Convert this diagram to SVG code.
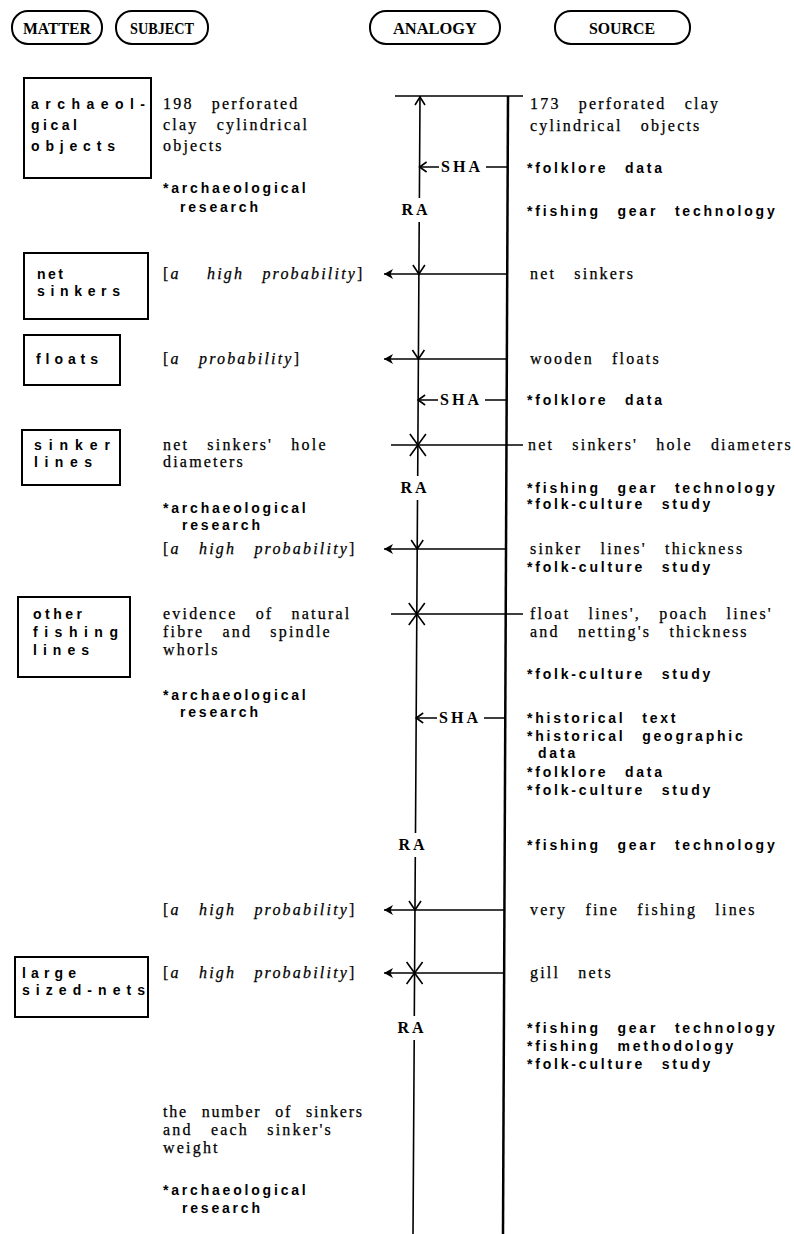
<svg xmlns="http://www.w3.org/2000/svg" xmlns:xlink="http://www.w3.org/1999/xlink" width="794" height="1234" viewBox="0 0 794 1234">
<style>
.pill{fill:none;stroke:#000;stroke-width:2}
.hdr{font-family:"Liberation Serif","Times New Roman",serif;font-weight:bold;font-size:17px;text-anchor:middle;fill:#000}
.box{fill:none;stroke:#000;stroke-width:2}
.bx{font-family:"Liberation Sans",Arial,sans-serif;font-weight:bold;font-size:14px;fill:#000}
.t{font-family:"Liberation Serif","Times New Roman",serif;font-size:16px;letter-spacing:2.2px;word-spacing:12px;fill:#000;stroke:#000;stroke-width:0.25}
.i{font-style:italic}
.b{font-family:"Liberation Sans",Arial,sans-serif;font-weight:bold;font-size:14px;letter-spacing:2.8px;word-spacing:10px;fill:#000}
.lab{font-family:"Liberation Serif","Times New Roman",serif;font-weight:bold;font-size:16px;letter-spacing:3px;text-anchor:middle;fill:#000}
.ln{fill:none;stroke:#000;stroke-width:1.6}
.vr{fill:none;stroke:#000;stroke-width:2.5}
</style>
<defs>
<marker id="ah" viewBox="-1 -6 11 12" refX="0" refY="0" markerWidth="11" markerHeight="12" markerUnits="userSpaceOnUse" orient="auto">
<path d="M0,0 L9,-5 L6.5,0 L9,5 Z" fill="#000"/>
</marker>
<path id="vdown" class="ln" d="M-6,-9 L0,0 L6,-9"/>
<path id="up" class="ln" d="M-5,8 L0,0 L5,8"/>
<path id="star" class="ln" d="M-8,-11 L8,11 M8,-11 L-8,11"/>
<path id="lt" class="ln" d="M7,-5 L0,0 L7,5"/>
</defs>
<rect width="794" height="1234" fill="#fff"/>

<g id="hdr-matter"><rect class="pill" x="12" y="11" width="90" height="33" rx="16"/><text class="hdr" x="57" y="34" textLength="68" lengthAdjust="spacingAndGlyphs">MATTER</text></g>
<g id="hdr-subject"><rect class="pill" x="116" y="11" width="92" height="33" rx="16"/><text class="hdr" x="162" y="34" textLength="64" lengthAdjust="spacingAndGlyphs">SUBJECT</text></g>
<g id="hdr-analogy"><rect class="pill" x="370" y="11" width="130" height="33" rx="16"/><text class="hdr" x="435" y="34" textLength="84" lengthAdjust="spacingAndGlyphs">ANALOGY</text></g>
<g id="hdr-source"><rect class="pill" x="555" y="11" width="135" height="33" rx="16"/><text class="hdr" x="622" y="34" textLength="66" lengthAdjust="spacingAndGlyphs">SOURCE</text></g>

<g id="matter-archaeological-objects"><rect class="box" x="24" y="78" width="127" height="100"/>
<text class="bx" x="31" y="109" textLength="114" lengthAdjust="spacing">archaeol-</text>
<text class="bx" x="31" y="130" textLength="46" lengthAdjust="spacing">gical</text>
<text class="bx" x="31" y="151" textLength="84" lengthAdjust="spacing">objects</text></g>
<g id="matter-net-sinkers"><rect class="box" x="24" y="253" width="124" height="66"/>
<text class="bx" x="37" y="279" textLength="26" lengthAdjust="spacing">net</text>
<text class="bx" x="37" y="296" textLength="83" lengthAdjust="spacing">sinkers</text></g>
<g id="matter-floats"><rect class="box" x="24" y="335" width="96" height="50"/>
<text class="bx" x="36" y="364" textLength="62" lengthAdjust="spacing">floats</text></g>
<g id="matter-sinker-lines"><rect class="box" x="22" y="430" width="98" height="55"/>
<text class="bx" x="34" y="450" textLength="76" lengthAdjust="spacing">sinker</text>
<text class="bx" x="34" y="467" textLength="58" lengthAdjust="spacing">lines</text></g>
<g id="matter-other-fishing-lines"><rect class="box" x="18" y="597" width="112" height="80"/>
<text class="bx" x="33" y="619" textLength="49" lengthAdjust="spacing">other</text>
<text class="bx" x="33" y="637" textLength="85" lengthAdjust="spacing">fishing</text>
<text class="bx" x="33" y="655" textLength="56" lengthAdjust="spacing">lines</text></g>
<g id="matter-large-sized-nets"><rect class="box" x="15" y="957" width="133" height="60"/>
<text class="bx" x="22" y="978" textLength="54" lengthAdjust="spacing">large</text>
<text class="bx" x="22" y="995" textLength="123" lengthAdjust="spacing">sized-nets</text></g>

<g id="subject-1"><text class="t" x="163" y="109">198 perforated</text><text class="t" x="163" y="130">clay cylindrical</text><text class="t" x="163" y="151">objects</text>
<text class="b" x="163" y="193">*archaeological</text><text class="b" x="180" y="212">research</text></g>
<g id="subject-2"><text class="t" x="163" y="279">[<tspan class="i">a</tspan> <tspan class="i" dx="8">high probability</tspan>]</text></g>
<g id="subject-3"><text class="t" x="163" y="364">[<tspan class="i">a probability</tspan>]</text></g>
<g id="subject-4"><text class="t" x="163" y="450">net sinkers' hole</text><text class="t" x="163" y="467">diameters</text>
<text class="b" x="163" y="513">*archaeological</text><text class="b" x="182" y="530">research</text>
<text class="t" x="163" y="554">[<tspan class="i">a high probability</tspan>]</text></g>
<g id="subject-5"><text class="t" x="163" y="619">evidence of natural</text><text class="t" x="163" y="637">fibre and spindle</text><text class="t" x="163" y="655">whorls</text>
<text class="b" x="163" y="700">*archaeological</text><text class="b" x="180" y="717">research</text></g>
<g id="subject-6"><text class="t" x="163" y="915">[<tspan class="i">a high probability</tspan>]</text></g>
<g id="subject-7"><text class="t" x="163" y="978">[<tspan class="i">a high probability</tspan>]</text></g>
<g id="subject-8"><text class="t" x="163" y="1117" style="word-spacing:8px;letter-spacing:1.8px">the number of sinkers</text><text class="t" x="163" y="1135">and each sinker's</text><text class="t" x="163" y="1153">weight</text>
<text class="b" x="163" y="1195">*archaeological</text><text class="b" x="182" y="1213">research</text></g>

<g id="source-1"><text class="t" x="530" y="109">173 perforated clay</text><text class="t" x="530" y="131">cylindrical objects</text>
<text class="b" x="527" y="173">*folklore data</text><text class="b" x="527" y="216">*fishing gear technology</text></g>
<g id="source-2"><text class="t" x="530" y="279">net sinkers</text></g>
<g id="source-3"><text class="t" x="530" y="364">wooden floats</text><text class="b" x="527" y="405">*folklore data</text></g>
<g id="source-4"><text class="t" x="528" y="450">net sinkers' hole diameters</text>
<text class="b" x="527" y="493">*fishing gear technology</text><text class="b" x="527" y="509">*folk-culture study</text></g>
<g id="source-5"><text class="t" x="530" y="554">sinker lines' thickness</text><text class="b" x="527" y="572">*folk-culture study</text></g>
<g id="source-6"><text class="t" x="530" y="619">float lines', poach lines'</text><text class="t" x="530" y="637">and netting's thickness</text>
<text class="b" x="527" y="679">*folk-culture study</text>
<text class="b" x="527" y="723">*historical text</text><text class="b" x="527" y="741">*historical geographic</text><text class="b" x="538" y="758">data</text>
<text class="b" x="527" y="777">*folklore data</text><text class="b" x="527" y="795">*folk-culture study</text>
<text class="b" x="527" y="850">*fishing gear technology</text></g>
<g id="source-7"><text class="t" x="530" y="915">very fine fishing lines</text></g>
<g id="source-8"><text class="t" x="530" y="978">gill nets</text>
<text class="b" x="527" y="1033">*fishing gear technology</text><text class="b" x="527" y="1051">*fishing methodology</text><text class="b" x="527" y="1069">*folk-culture study</text></g>

<g id="analogy-labels">
<text class="lab" x="462" y="172">SHA</text>
<text class="lab" x="416" y="215">RA</text>
<text class="lab" x="461" y="405">SHA</text>
<text class="lab" x="415" y="493">RA</text>
<text class="lab" x="460" y="723">SHA</text>
<text class="lab" x="413" y="850">RA</text>
<text class="lab" x="412" y="1033">RA</text>
</g>

<g id="connectors">
<path class="ln" d="M395,96 H523"/>
<use xlink:href="#up" x="420" y="97"/>
<path class="ln" d="M420,96 L419.4,198 M419.2,222 L417.7,476 M417.5,500 L415.5,833 M415.3,857 L414.3,1016 M414.2,1040 L413,1234"/>
<path class="vr" d="M508,96 L503,1234"/>
<use xlink:href="#lt" x="419.6" y="167"/>
<path class="ln" d="M419.6,167 H439 M486,167 H507.7"/>
<use xlink:href="#lt" x="418.1" y="400"/>
<path class="ln" d="M418.1,400 H438 M485,400 H506.7"/>
<use xlink:href="#lt" x="416.2" y="718"/>
<path class="ln" d="M416.2,718 H437 M484,718 H505.3"/>
<path class="ln" d="M384,274 H507.2" marker-start="url(#ah)"/>
<use xlink:href="#vdown" x="418.9" y="274"/>
<path class="ln" d="M384,359 H506.8" marker-start="url(#ah)"/>
<use xlink:href="#vdown" x="418.4" y="359"/>
<path class="ln" d="M391,445 H523"/>
<use xlink:href="#star" x="417.9" y="445"/>
<path class="ln" d="M384,549 H506" marker-start="url(#ah)"/>
<use xlink:href="#vdown" x="417.2" y="549"/>
<path class="ln" d="M391,614 H523"/>
<use xlink:href="#star" x="416.8" y="614"/>
<path class="ln" d="M384,910 H504.4" marker-start="url(#ah)"/>
<use xlink:href="#vdown" x="415" y="910"/>
<path class="ln" d="M384,973 H504.1" marker-start="url(#ah)"/>
<use xlink:href="#star" x="414.6" y="973"/>
</g>
</svg>
